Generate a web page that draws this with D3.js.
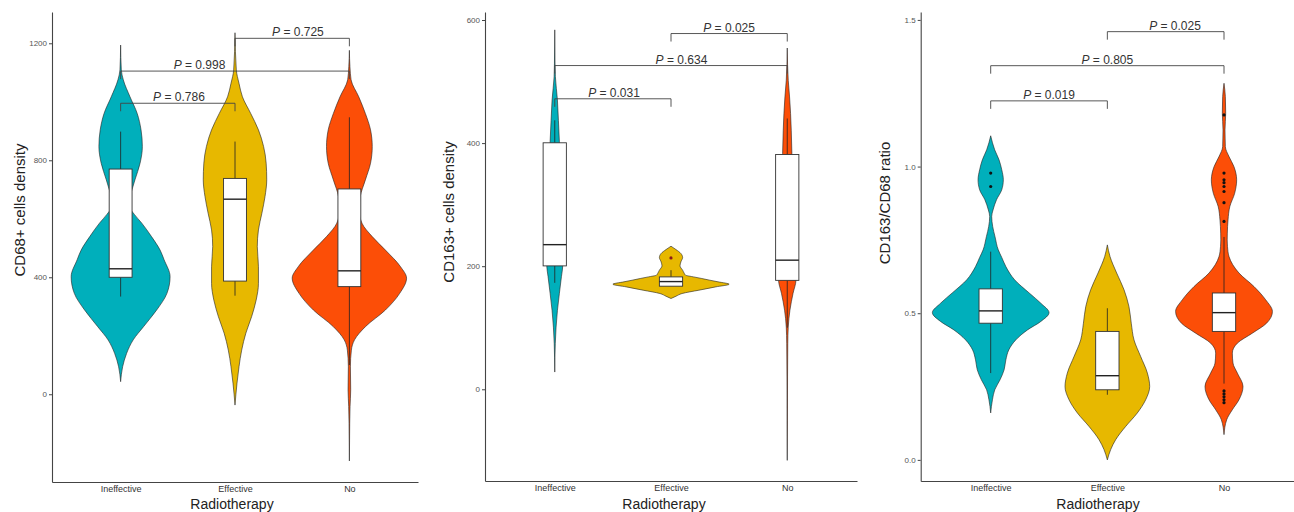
<!DOCTYPE html>
<html><head><meta charset="utf-8">
<script src="https://cdn.jsdelivr.net/npm/d3@7"></script>
<style>body{margin:0;background:#fff;} svg{display:block;font-family:"Liberation Sans",Arial,sans-serif;}</style>
</head><body><svg id="chart" width="1294" height="512"></svg>
<script>
// ---------------- data ----------------
const categories = ["Ineffective", "Effective", "No"];
const colors = ["#00AFBB", "#E7B800", "#FC4E07"];
const xTitle = "Radiotherapy";

// Panel 1: CD68+ cells density
const cd68Title = "CD68+ cells density";
const cd68Ticks = [0, 400, 800, 1200];
const cd68Domain = [-300, 1307];
// [value, relative density]
const cd68ViolinIneffective = [[1194,0],[1109,0.012],[1075,0.047],[1017,0.164],[960,0.29],[904,0.357],[847,0.38],[790,0.34],[733,0.25],[700,0.2],[665,0.155],[640,0.16],[615,0.24],[585,0.37],[539,0.54],[493,0.69],[460,0.76],[402,0.865],[345,0.81],[288,0.63],[231,0.40],[186,0.22],[140,0.105],[94,0.035],[43,0]];
const cd68ViolinEffective = [[1236,0],[1109,0.023],[1063,0.07],[1017,0.13],[960,0.275],[904,0.41],[847,0.50],[790,0.545],[733,0.555],[676,0.525],[619,0.47],[562,0.41],[505,0.39],[436,0.41],[379,0.41],[322,0.37],[265,0.29],[209,0.19],[151,0.117],[94,0.07],[38,0.035],[-37,0]];
const cd68ViolinNo = [[1176,0],[1120,0.01],[1075,0.03],[1017,0.164],[960,0.28],[904,0.37],[847,0.40],[790,0.37],[733,0.28],[676,0.19],[630,0.17],[585,0.22],[539,0.40],[493,0.63],[436,0.895],[397,1.0],[345,0.88],[288,0.63],[231,0.28],[186,0.09],[151,0.035],[94,0.018],[15,0.023],[-42,0.012],[-99,0.006],[-228,0]];
// [lower whisker, Q1, median, Q3, upper whisker]
const cd68Box = [[334,400,429,770,898],[337,387,667,738,864],[100,368,422,702,947]];
const cd68Outliers = [[],[],[]];
const cd68Pairs = [[0,1],[0,2],[1,2]];
const cd68PairY = [995, 1105, 1217];
const cd68PValues = ["0.786", "0.998", "0.725"];
const cd68LabelAt = [1.51, 1.69, 2.55];

// Panel 2: CD163+ cells density
const cd163Title = "CD163+ cells density";
const cd163Ticks = [0, 200, 400, 600];
const cd163Domain = [-149, 613];
const cd163ViolinIneffective = [[584,0],[530,0.005],[508,0.011],[470,0.046],[437,0.063],[402,0.08],[350,0.1],[300,0.12],[250,0.135],[215,0.14],[201,0.138],[183,0.115],[156,0.08],[128,0.046],[101,0.023],[74,0.009],[28,0]];
const cd163ViolinEffective = [[232.5,0],[227,0.086],[220.7,0.17],[214,0.2],[207,0.17],[200.5,0.155],[193.5,0.2],[188,0.23],[185.4,0.25],[182.6,0.39],[180,0.53],[177.2,0.67],[174.6,0.81],[170.7,1.0],[166.4,0.77],[161,0.48],[155.6,0.19],[151.2,0.086],[147.5,0]];
const cd163ViolinNo = [[554.5,0],[502,0.017],[475,0.04],[448,0.057],[421,0.069],[383,0.08],[340,0.1],[290,0.12],[240,0.14],[200,0.155],[177,0.15],[156,0.1],[128.5,0.046],[101,0.017],[74,0.009],[20,0.005],[-50,0.003],[-115.5,0]];
const cd163Box = [[173,200.5,235,400.5,437],[167.5,167.5,175,182.6,193.5],[100,177,209.8,381.5,440]];
const cd163Outliers = [[],[213.5],[]];
const cd163Pairs = [[0,1],[0,2],[1,2]];
const cd163PairY = [472, 526, 578];
const cd163PValues = ["0.031", "0.634", "0.025"];
const cd163LabelAt = [1.51, 2.09, 2.5];

// Panel 3: CD163/CD68 ratio
const ratioTitle = "CD163/CD68 ratio";
const ratioTicks = [0, 0.5, 1.0, 1.5];
const ratioDomain = [-0.072, 1.527];
const ratioViolinIneffective = [[1.105,0],[1.057,0.069],[1.023,0.143],[0.989,0.19],[0.955,0.217],[0.921,0.19],[0.887,0.10],[0.852,0.04],[0.830,0.017],[0.796,0.034],[0.761,0.074],[0.716,0.13],[0.690,0.19],[0.659,0.26],[0.614,0.41],[0.569,0.66],[0.534,0.86],[0.502,1.0],[0.472,0.86],[0.443,0.63],[0.409,0.43],[0.375,0.31],[0.341,0.26],[0.307,0.23],[0.273,0.16],[0.239,0.07],[0.205,0.03],[0.160,0]];
const ratioViolinEffective = [[0.733,0],[0.693,0.046],[0.637,0.16],[0.580,0.286],[0.523,0.37],[0.466,0.41],[0.409,0.457],[0.353,0.57],[0.296,0.686],[0.250,0.726],[0.205,0.657],[0.160,0.514],[0.114,0.314],[0.069,0.143],[0.035,0.057],[0.0,0]];
const ratioViolinNo = [[1.284,0],[1.239,0.023],[1.182,0.029],[1.125,0.017],[1.068,0.023],[1.034,0.086],[1.0,0.17],[0.955,0.217],[0.909,0.183],[0.864,0.10],[0.818,0.069],[0.773,0.057],[0.750,0.055],[0.727,0.06],[0.693,0.086],[0.637,0.257],[0.591,0.514],[0.546,0.714],[0.506,0.83],[0.466,0.73],[0.432,0.486],[0.398,0.229],[0.364,0.143],[0.330,0.154],[0.296,0.229],[0.250,0.326],[0.205,0.257],[0.171,0.143],[0.137,0.046],[0.086,0]];
const ratioBox = [[0.296,0.466,0.508,0.583,0.71],[0.222,0.239,0.287,0.438,0.517],[0.26,0.438,0.502,0.569,0.76]];
const ratioOutliers = [[0.978,0.932],[],[1.176,0.978,0.955,0.945,0.932,0.915,0.877,0.813,0.235,0.225,0.215,0.205,0.195]];
const ratioPairs = [[0,1],[0,2],[1,2]];
const ratioPairY = [1.224, 1.344, 1.460];
const ratioPValues = ["0.019", "0.805", "0.025"];
const ratioLabelAt = [1.50, 2.0, 2.58];

// ---------------- drawing ----------------
const panels = [
  {title: cd68Title, ticks: cd68Ticks, domain: cd68Domain, fmt: d3.format("d"),
   violins: [cd68ViolinIneffective, cd68ViolinEffective, cd68ViolinNo],
   box: cd68Box, outliers: cd68Outliers, outlierColor: ["#111","#111","#111"],
   pairs: cd68Pairs, pairY: cd68PairY, pv: cd68PValues, labelAt: cd68LabelAt,
   g: {left: 52, right: 418, top: 12, bottom: 482, ytX: 24.5, ytY: 210, xtX: 232}},
  {title: cd163Title, ticks: cd163Ticks, domain: cd163Domain, fmt: d3.format("d"),
   violins: [cd163ViolinIneffective, cd163ViolinEffective, cd163ViolinNo],
   box: cd163Box, outliers: cd163Outliers, outlierColor: ["#111","#8b1a1a","#111"],
   pairs: cd163Pairs, pairY: cd163PairY, pv: cd163PValues, labelAt: cd163LabelAt,
   g: {left: 485, right: 857, top: 12, bottom: 481, ytX: 453.5, ytY: 212, xtX: 664}},
  {title: ratioTitle, ticks: ratioTicks, domain: ratioDomain, fmt: d3.format(".1f"),
   violins: [ratioViolinIneffective, ratioViolinEffective, ratioViolinNo],
   box: ratioBox, outliers: ratioOutliers, outlierColor: ["#111","#111","#111"],
   pairs: ratioPairs, pairY: ratioPairY, pv: ratioPValues, labelAt: ratioLabelAt,
   g: {left: 920.7, right: 1294, top: 12, bottom: 481, ytX: 890, ytY: 203, xtX: 1098}}
];

const svg = d3.select("#chart");
svg.append("rect").attr("width", 1294).attr("height", 512).attr("fill", "#fff");

panels.forEach(p => {
  const g = p.g;
  const x = d3.scalePoint().domain(categories).range([g.left, g.right]).padding(0.6);
  const y = d3.scaleLinear().domain(p.domain).range([g.bottom, g.top]);
  const step = x.step();
  const w = d3.scaleLinear().domain([0, 1]).range([0, 0.5 * step]);
  const catPos = k => g.left + (k - 0.4) * step; // 1-based category coordinate
  const root = svg.append("g");

  // violins
  categories.forEach((c, i) => {
    const cx = x(c);
    const area = d3.area()
      .curve(d3.curveMonotoneY)
      .y(d => y(d[0]))
      .x0(d => cx - w(d[1]))
      .x1(d => cx + w(d[1]));
    root.append("path").datum(p.violins[i])
      .attr("d", area)
      .attr("fill", colors[i])
      .attr("stroke", "#222").attr("stroke-width", 0.6);
  });

  // boxplots
  const bw = 0.2 * step;
  categories.forEach((c, i) => {
    const cx = x(c);
    const [lo, q1, med, q3, hi] = p.box[i];
    root.append("line").attr("x1", cx).attr("x2", cx).attr("y1", y(hi)).attr("y2", y(q3))
      .attr("stroke", "#222").attr("stroke-width", 0.8);
    root.append("line").attr("x1", cx).attr("x2", cx).attr("y1", y(q1)).attr("y2", y(lo))
      .attr("stroke", "#222").attr("stroke-width", 0.8);
    root.append("rect").attr("x", cx - bw / 2).attr("width", bw)
      .attr("y", y(q3)).attr("height", y(q1) - y(q3))
      .attr("fill", "#fff").attr("stroke", "#333").attr("stroke-width", 0.9);
    root.append("line").attr("x1", cx - bw / 2).attr("x2", cx + bw / 2)
      .attr("y1", y(med)).attr("y2", y(med))
      .attr("stroke", "#222").attr("stroke-width", 1.4);
    p.outliers[i].forEach(v => {
      root.append("circle").attr("cx", cx).attr("cy", y(v)).attr("r", 1.6)
        .attr("fill", p.outlierColor[i]);
    });
  });

  // significance brackets
  const tip = 8;
  p.pairs.forEach((pr, k) => {
    const x1 = x(categories[pr[0]]), x2 = x(categories[pr[1]]);
    const yy = y(p.pairY[k]);
    root.append("path")
      .attr("d", `M${x1},${yy + tip}V${yy}H${x2}V${yy + tip}`)
      .attr("fill", "none").attr("stroke", "#444").attr("stroke-width", 0.9);
    const t = root.append("text")
      .attr("x", catPos(p.labelAt[k])).attr("y", yy - 2)
      .attr("text-anchor", "middle").attr("font-size", 12).attr("fill", "#333");
    t.append("tspan").attr("font-style", "italic").text("P");
    t.append("tspan").text(" = " + p.pv[k]);
  });

  // axes
  const yAxis = d3.axisLeft(y).tickValues(p.ticks).tickFormat(p.fmt).tickSize(3).tickSizeOuter(0).tickPadding(2);
  const ya = root.append("g").attr("transform", `translate(${g.left},0)`).call(yAxis);
  ya.select(".domain").attr("stroke", "#444").attr("stroke-width", 1.1);
  ya.selectAll(".tick line").attr("stroke", "#444");
  ya.selectAll(".tick text").attr("font-size", 8).attr("fill", "#555")
    .attr("font-family", '"Liberation Sans", Arial, sans-serif');

  const xAxis = d3.axisBottom(x).tickSize(0).tickSizeOuter(0).tickPadding(4);
  const xa = root.append("g").attr("transform", `translate(0,${g.bottom})`).call(xAxis);
  xa.select(".domain").attr("stroke", "#444").attr("stroke-width", 1.1);
  xa.selectAll(".tick text").attr("font-size", 9).attr("fill", "#333")
    .attr("font-family", '"Liberation Sans", Arial, sans-serif');

  // titles
  root.append("text").attr("x", g.xtX).attr("y", 509).attr("text-anchor", "middle")
    .attr("font-size", 14).attr("fill", "#222").text(xTitle);
  root.append("text").attr("transform", `translate(${g.ytX},${g.ytY}) rotate(-90)`)
    .attr("text-anchor", "middle").attr("font-size", 15).attr("fill", "#222").text(p.title);
});
</script>
</body></html>
